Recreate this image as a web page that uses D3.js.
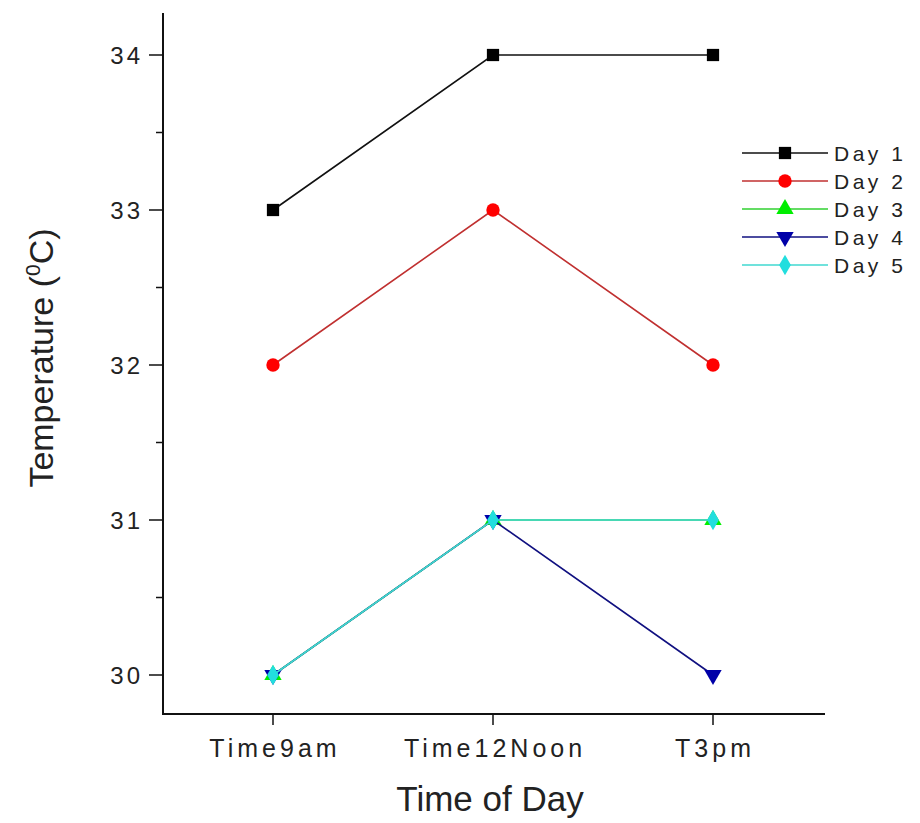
<!DOCTYPE html>
<html>
<head>
<meta charset="utf-8">
<script src="https://cdn.jsdelivr.net/npm/d3@7"></script>
<style>
  body { margin: 0; background: #fff; }
  svg { display: block; }
  text { font-family: "Liberation Sans", Arial, sans-serif; fill: #222; }
</style>
</head>
<body>
<svg id="chart" width="920" height="823"></svg>
<script>
// Categories and readings
const times = ["Time9am", "Time12Noon", "T3pm"];
const seriesNames = ["Day 1", "Day 2", "Day 3", "Day 4", "Day 5"];
const day1 = [33, 34, 34];
const day2 = [32, 33, 32];
const day3 = [30, 31, 31];
const day4 = [30, 31, 30];
const day5 = [30, 31, 31];
const yTicks = [30, 31, 32, 33, 34];
const yMinorTicks = [30.5, 31.5, 32.5, 33.5];

const seriesValues = [day1, day2, day3, day4, day5];
const colors = ["#000000", "#ff0000", "#00ee00", "#0000a8", "#22dede"];
const lineColors = ["#111111", "#c03030", "#30d030", "#101080", "#40d8d0"];
const symbols = [d3.symbolSquare, d3.symbolCircle, d3.symbolTriangle, "down", d3.symbolDiamond];

const svg = d3.select("#chart");

const x = d3.scalePoint().domain(times).range([273, 713]);
const y = d3.scaleLinear().domain([30, 34]).range([675, 55]);

const axisLeftX = 163, axisBottomY = 714, axisTopY = 13, axisRightX = 825;

// axes lines
svg.append("line").attr("x1", axisLeftX).attr("x2", axisLeftX)
  .attr("y1", axisTopY).attr("y2", axisBottomY + 1)
  .attr("stroke", "#111").attr("stroke-width", 2);
svg.append("line").attr("x1", axisLeftX - 1).attr("x2", axisRightX)
  .attr("y1", axisBottomY).attr("y2", axisBottomY)
  .attr("stroke", "#111").attr("stroke-width", 2);

// y ticks
const yAxis = svg.append("g");
yAxis.selectAll(".maj").data(yTicks).join("line")
  .attr("x1", axisLeftX - 14).attr("x2", axisLeftX)
  .attr("y1", d => y(d)).attr("y2", d => y(d))
  .attr("stroke", "#111").attr("stroke-width", 1.5);
yAxis.selectAll(".min").data(yMinorTicks).join("line")
  .attr("x1", axisLeftX - 7).attr("x2", axisLeftX)
  .attr("y1", d => y(d)).attr("y2", d => y(d))
  .attr("stroke", "#111").attr("stroke-width", 1.5);
yAxis.selectAll("text").data(yTicks).join("text")
  .attr("x", 143).attr("y", d => y(d)).attr("dy", "0.36em")
  .attr("text-anchor", "end").attr("font-size", 24)
  .attr("letter-spacing", 3)
  .text(d => d);

// x ticks
const xAxis = svg.append("g");
xAxis.selectAll("line").data(times).join("line")
  .attr("x1", d => x(d)).attr("x2", d => x(d))
  .attr("y1", axisBottomY).attr("y2", axisBottomY + 11)
  .attr("stroke", "#111").attr("stroke-width", 1.5);
xAxis.selectAll("text").data(times).join("text")
  .attr("x", d => x(d) + 2).attr("y", 757)
  .attr("text-anchor", "middle").attr("font-size", 25)
  .attr("letter-spacing", 4)
  .text(d => d);

// axis titles
svg.append("text").attr("x", 490).attr("y", 811)
  .attr("text-anchor", "middle").attr("font-size", 35)
  .text("Time of Day");

const yTitle = svg.append("text")
  .attr("transform", "translate(53,358) rotate(-90)")
  .attr("text-anchor", "middle").attr("font-size", 34);
yTitle.append("tspan").text("Temperature (");
yTitle.append("tspan").attr("font-size", 21).attr("dy", -13).text("0");
yTitle.append("tspan").attr("dy", 13).text("C)");

function symbolPath(sym, size) {
  if (sym === "down") {
    return d3.symbol(d3.symbolTriangle, size)();
  }
  return d3.symbol(sym, size)();
}
function symbolTransform(sym, px, py) {
  if (sym === "down") return `translate(${px},${py}) rotate(180)`;
  return `translate(${px},${py})`;
}
const sizes = [150, 140, 130, 130, 120];

// series lines and markers
const line = d3.line().x((d, i) => x(times[i])).y(d => y(d));
seriesValues.forEach((vals, s) => {
  const g = svg.append("g");
  g.append("path").datum(vals).attr("d", line)
    .attr("fill", "none").attr("stroke", lineColors[s]).attr("stroke-width", 1.6);
  g.selectAll("path.m").data(vals).join("path").attr("class", "m")
    .attr("d", symbolPath(symbols[s], sizes[s]))
    .attr("transform", (d, i) => symbolTransform(symbols[s], x(times[i]), y(d)))
    .attr("fill", colors[s]);
});

// legend
const legend = svg.append("g");
seriesNames.forEach((name, i) => {
  const ly = 153 + i * 28;
  legend.append("line").attr("x1", 742).attr("x2", 828)
    .attr("y1", ly).attr("y2", ly)
    .attr("stroke", lineColors[i]).attr("stroke-width", 1.6);
  legend.append("path")
    .attr("d", symbolPath(symbols[i], sizes[i]))
    .attr("transform", symbolTransform(symbols[i], 785, ly))
    .attr("fill", colors[i]);
  legend.append("text").attr("x", 834).attr("y", ly).attr("dy", "0.36em")
    .attr("font-size", 21).attr("letter-spacing", 3.5)
    .text(name);
});
</script>
</body>
</html>
